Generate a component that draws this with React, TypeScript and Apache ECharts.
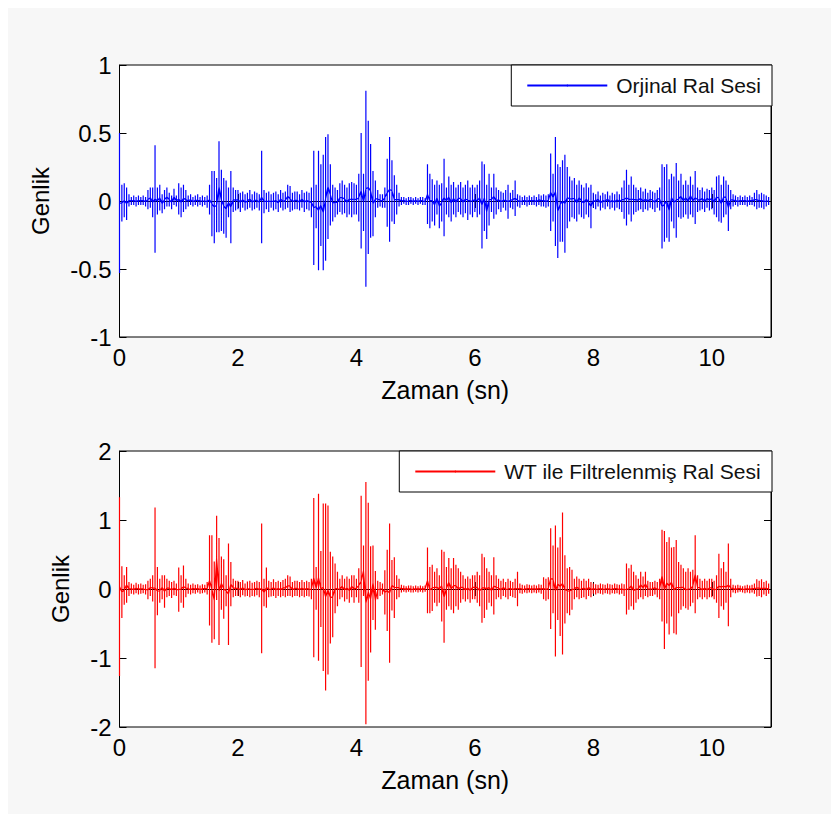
import React, { useEffect, useRef } from "react";
import * as echarts from "echarts";

// Sampling step of the spike list (seconds)
const DT = 0.04;

// Time axis ticks (s)
const timeTicks = [0, 2, 4, 6, 8, 10];

// Original signal: upper / lower extreme of each spike (one row = 1 s)
const origHi = [
  0.5, 0.12, 0.13, 0.1, 0.05, 0.03, 0.04, 0.03, 0.04, 0.03, 0.04, 0.03, 0.08, 0.1, 0.1, 0.41, 0.1, 0.12, 0.05, 0.08, 0.1, 0.06, 0.04, 0.09, 0.04,
  0.13, 0.1, 0.12, 0.08, 0.04, 0.05, 0.03, 0.04, 0.05, 0.03, 0.04, 0.03, 0.04, 0.12, 0.22, 0.22, 0.17, 0.44, 0.23, 0.17, 0.15, 0.1, 0.22, 0.1, 0.08,
  0.08, 0.06, 0.07, 0.05, 0.06, 0.08, 0.05, 0.07, 0.06, 0.05, 0.37, 0.08, 0.06, 0.07, 0.05, 0.06, 0.07, 0.05, 0.08, 0.06, 0.07, 0.12, 0.11, 0.06, 0.07,
  0.07, 0.05, 0.08, 0.06, 0.07, 0.06, 0.1, 0.37, 0.12, 0.37, 0.27, 0.34, 0.47, 0.49, 0.27, 0.12, 0.1, 0.08, 0.13, 0.15, 0.12, 0.1, 0.13, 0.14, 0.13,
  0.12, 0.2, 0.5, 0.2, 0.81, 0.59, 0.42, 0.22, 0.15, 0.08, 0.05, 0.05, 0.1, 0.31, 0.47, 0.3, 0.19, 0.12, 0.06, 0.03, 0.03, 0.02, 0.03, 0.03, 0.02,
  0.03, 0.02, 0.03, 0.03, 0.02, 0.27, 0.2, 0.16, 0.12, 0.15, 0.12, 0.13, 0.31, 0.1, 0.18, 0.12, 0.14, 0.1, 0.12, 0.14, 0.1, 0.12, 0.15, 0.1, 0.12,
  0.1, 0.12, 0.15, 0.29, 0.27, 0.12, 0.2, 0.1, 0.2, 0.1, 0.08, 0.07, 0.06, 0.08, 0.12, 0.06, 0.08, 0.15, 0.05, 0.04, 0.03, 0.04, 0.03, 0.04, 0.03,
  0.04, 0.03, 0.05, 0.04, 0.05, 0.04, 0.05, 0.35, 0.2, 0.47, 0.27, 0.25, 0.3, 0.34, 0.25, 0.18, 0.15, 0.17, 0.12, 0.15, 0.12, 0.1, 0.13, 0.1, 0.12,
  0.06, 0.05, 0.07, 0.04, 0.06, 0.05, 0.07, 0.04, 0.06, 0.05, 0.07, 0.05, 0.1, 0.15, 0.23, 0.12, 0.18, 0.12, 0.1, 0.08, 0.1, 0.07, 0.09, 0.06, 0.08,
  0.07, 0.06, 0.08, 0.1, 0.27, 0.25, 0.27, 0.16, 0.2, 0.18, 0.28, 0.15, 0.2, 0.12, 0.15, 0.12, 0.18, 0.12, 0.22, 0.1, 0.08, 0.1, 0.07, 0.09, 0.08,
  0.1, 0.08, 0.18, 0.19, 0.12, 0.18, 0.15, 0.12, 0.08, 0.05, 0.04, 0.03, 0.04, 0.03, 0.04, 0.03, 0.04, 0.03, 0.06, 0.08, 0.05, 0.06, 0.05, 0.04, 0.03,
];
const origLo = [
  -0.53, -0.15, -0.12, -0.14, -0.04, -0.03, -0.03, -0.04, -0.03, -0.03, -0.03, -0.04, -0.06, -0.05, -0.12, -0.38, -0.1, -0.07, -0.09, -0.06, -0.04, -0.04, -0.06, -0.03, -0.04,
  -0.1, -0.12, -0.08, -0.06, -0.04, -0.03, -0.04, -0.03, -0.04, -0.03, -0.04, -0.03, -0.05, -0.1, -0.26, -0.31, -0.23, -0.23, -0.22, -0.24, -0.27, -0.12, -0.31, -0.08, -0.07,
  -0.06, -0.08, -0.05, -0.07, -0.06, -0.05, -0.07, -0.06, -0.05, -0.07, -0.31, -0.09, -0.06, -0.08, -0.05, -0.07, -0.06, -0.08, -0.05, -0.07, -0.06, -0.05, -0.08, -0.07, -0.06,
  -0.06, -0.07, -0.05, -0.08, -0.06, -0.07, -0.12, -0.47, -0.2, -0.51, -0.33, -0.51, -0.44, -0.28, -0.18, -0.15, -0.12, -0.1, -0.08, -0.1, -0.09, -0.12, -0.1, -0.12, -0.1,
  -0.1, -0.15, -0.35, -0.22, -0.63, -0.39, -0.27, -0.26, -0.12, -0.05, -0.04, -0.05, -0.05, -0.19, -0.3, -0.15, -0.17, -0.1, -0.04, -0.03, -0.02, -0.03, -0.03, -0.02, -0.03,
  -0.02, -0.03, -0.02, -0.03, -0.03, -0.17, -0.2, -0.15, -0.18, -0.1, -0.2, -0.15, -0.26, -0.1, -0.12, -0.15, -0.1, -0.12, -0.08, -0.1, -0.12, -0.09, -0.14, -0.1, -0.12,
  -0.08, -0.12, -0.1, -0.35, -0.22, -0.28, -0.18, -0.08, -0.13, -0.1, -0.06, -0.08, -0.05, -0.07, -0.13, -0.05, -0.06, -0.11, -0.04, -0.05, -0.03, -0.03, -0.04, -0.03, -0.03,
  -0.03, -0.04, -0.03, -0.04, -0.04, -0.05, -0.04, -0.22, -0.15, -0.33, -0.42, -0.3, -0.3, -0.38, -0.2, -0.15, -0.12, -0.13, -0.15, -0.1, -0.12, -0.13, -0.1, -0.12, -0.2,
  -0.05, -0.06, -0.04, -0.07, -0.05, -0.06, -0.04, -0.06, -0.05, -0.07, -0.05, -0.06, -0.08, -0.13, -0.18, -0.1, -0.15, -0.1, -0.08, -0.07, -0.06, -0.08, -0.06, -0.07, -0.05,
  -0.06, -0.08, -0.05, -0.07, -0.35, -0.3, -0.27, -0.3, -0.15, -0.2, -0.27, -0.12, -0.13, -0.12, -0.1, -0.13, -0.1, -0.12, -0.17, -0.08, -0.07, -0.06, -0.08, -0.05, -0.07,
  -0.06, -0.1, -0.12, -0.15, -0.16, -0.12, -0.1, -0.22, -0.06, -0.04, -0.03, -0.04, -0.03, -0.03, -0.03, -0.04, -0.03, -0.03, -0.04, -0.06, -0.05, -0.05, -0.06, -0.04, -0.03,
];

// WT-filtered signal: upper / lower extreme of each spike (one row = 1 s)
const filtHi = [
  1.33, 0.33, 0.2, 0.32, 0.1, 0.08, 0.06, 0.09, 0.07, 0.08, 0.06, 0.07, 0.12, 0.15, 0.2, 1.18, 0.32, 0.15, 0.2, 0.2, 0.15, 0.12, 0.1, 0.12, 0.08,
  0.31, 0.2, 0.34, 0.15, 0.08, 0.06, 0.08, 0.06, 0.07, 0.05, 0.07, 0.06, 0.1, 0.78, 0.78, 0.4, 1.06, 0.74, 0.47, 0.43, 0.2, 0.66, 0.39, 0.15, 0.12,
  0.12, 0.1, 0.13, 0.08, 0.11, 0.12, 0.09, 0.1, 0.12, 0.1, 0.95, 0.15, 0.31, 0.12, 0.1, 0.14, 0.1, 0.12, 0.1, 0.13, 0.15, 0.2, 0.18, 0.1, 0.12,
  0.12, 0.1, 0.13, 0.1, 0.12, 0.1, 0.15, 1.32, 0.32, 1.38, 0.55, 1.24, 1.24, 1.21, 0.54, 0.47, 0.37, 0.25, 0.15, 0.2, 0.15, 0.18, 0.15, 0.2, 0.2,
  0.15, 0.3, 1.35, 0.63, 1.55, 1.25, 0.62, 0.63, 0.26, 0.12, 0.1, 0.08, 0.27, 0.57, 0.95, 0.42, 0.46, 0.2, 0.15, 0.06, 0.05, 0.04, 0.05, 0.05, 0.04,
  0.05, 0.04, 0.05, 0.04, 0.05, 0.6, 0.32, 0.35, 0.25, 0.3, 0.2, 0.57, 0.54, 0.32, 0.45, 0.3, 0.45, 0.35, 0.3, 0.25, 0.2, 0.15, 0.18, 0.15, 0.2,
  0.2, 0.25, 0.2, 0.51, 0.46, 0.3, 0.25, 0.2, 0.46, 0.2, 0.15, 0.12, 0.15, 0.1, 0.15, 0.12, 0.1, 0.15, 0.25, 0.08, 0.06, 0.05, 0.07, 0.06, 0.05,
  0.06, 0.05, 0.07, 0.06, 0.17, 0.15, 0.17, 0.88, 0.63, 0.92, 0.6, 0.75, 1.11, 0.49, 0.3, 0.32, 0.28, 0.15, 0.18, 0.15, 0.12, 0.15, 0.12, 0.15, 0.1,
  0.08, 0.07, 0.06, 0.08, 0.07, 0.06, 0.08, 0.07, 0.06, 0.08, 0.07, 0.06, 0.08, 0.07, 0.37, 0.3, 0.35, 0.25, 0.2, 0.15, 0.25, 0.18, 0.25, 0.12, 0.1,
  0.1, 0.12, 0.1, 0.15, 0.86, 0.84, 0.68, 0.75, 0.6, 0.61, 0.71, 0.39, 0.35, 0.3, 0.25, 0.3, 0.25, 0.28, 0.78, 0.2, 0.15, 0.12, 0.15, 0.12, 0.15,
  0.15, 0.12, 0.2, 0.51, 0.3, 0.39, 0.25, 0.66, 0.15, 0.06, 0.05, 0.06, 0.05, 0.04, 0.05, 0.06, 0.05, 0.06, 0.08, 0.14, 0.12, 0.14, 0.1, 0.12, 0.08,
];
const filtLo = [
  -1.26, -0.42, -0.23, -0.2, -0.1, -0.07, -0.08, -0.06, -0.08, -0.07, -0.06, -0.08, -0.15, -0.1, -0.18, -1.15, -0.38, -0.2, -0.15, -0.27, -0.12, -0.1, -0.13, -0.09, -0.1,
  -0.33, -0.2, -0.27, -0.12, -0.07, -0.08, -0.06, -0.07, -0.05, -0.07, -0.06, -0.05, -0.08, -0.53, -0.78, -0.73, -0.16, -0.81, -0.3, -0.43, -0.25, -0.81, -0.25, -0.12, -0.1,
  -0.1, -0.12, -0.09, -0.11, -0.1, -0.12, -0.1, -0.11, -0.09, -0.12, -0.93, -0.25, -0.27, -0.12, -0.11, -0.1, -0.13, -0.1, -0.12, -0.1, -0.12, -0.1, -0.1, -0.12, -0.1,
  -0.1, -0.12, -0.1, -0.12, -0.1, -0.11, -0.15, -0.99, -0.3, -1.04, -0.55, -1.19, -1.47, -1.24, -0.79, -0.7, -0.35, -0.25, -0.15, -0.12, -0.18, -0.15, -0.2, -0.12, -0.2,
  -0.12, -0.2, -1.13, -0.1, -1.96, -1.33, -0.92, -0.45, -0.59, -0.15, -0.1, -0.08, -0.37, -0.61, -1.07, -0.31, -0.42, -0.15, -0.12, -0.05, -0.04, -0.05, -0.04, -0.05, -0.05,
  -0.04, -0.05, -0.04, -0.05, -0.04, -0.35, -0.35, -0.32, -0.2, -0.25, -0.2, -0.47, -0.78, -0.3, -0.25, -0.3, -0.35, -0.25, -0.3, -0.2, -0.15, -0.18, -0.15, -0.2, -0.15,
  -0.15, -0.2, -0.25, -0.49, -0.42, -0.3, -0.2, -0.25, -0.37, -0.15, -0.12, -0.15, -0.1, -0.12, -0.15, -0.1, -0.12, -0.13, -0.25, -0.06, -0.07, -0.05, -0.06, -0.05, -0.06,
  -0.05, -0.06, -0.05, -0.07, -0.15, -0.17, -0.15, -0.58, -0.35, -0.98, -0.45, -0.68, -0.95, -0.5, -0.35, -0.38, -0.3, -0.15, -0.12, -0.15, -0.13, -0.12, -0.15, -0.1, -0.12,
  -0.07, -0.08, -0.06, -0.07, -0.08, -0.06, -0.07, -0.08, -0.06, -0.07, -0.06, -0.08, -0.07, -0.1, -0.37, -0.3, -0.25, -0.3, -0.2, -0.15, -0.12, -0.15, -0.1, -0.12, -0.1,
  -0.1, -0.08, -0.12, -0.15, -0.47, -0.87, -0.5, -0.66, -0.4, -0.64, -0.66, -0.35, -0.3, -0.25, -0.28, -0.3, -0.25, -0.2, -0.35, -0.15, -0.12, -0.15, -0.12, -0.15, -0.12,
  -0.12, -0.15, -0.2, -0.42, -0.25, -0.3, -0.2, -0.54, -0.12, -0.05, -0.06, -0.05, -0.04, -0.05, -0.06, -0.05, -0.06, -0.05, -0.07, -0.11, -0.1, -0.12, -0.08, -0.1, -0.07,
];

const ORIG_NAME = "Orjinal Ral Sesi";
const FILT_NAME = "WT ile Filtrelenmiş Ral Sesi";
const X_NAME = "Zaman (sn)";
const Y_NAME = "Genlik";
const BLUE = "#0000ff";
const RED = "#ff0000";

// Each spike is drawn as a vertical stroke from its upper to its lower extreme.
function spikes(hi: number[], lo: number[]): number[][] {
  const pts: number[][] = [];
  for (let i = 0; i < hi.length; i++) {
    const t = Math.round(i * DT * 1000) / 1000;
    const m = (hi[i] + lo[i]) / 2;
    pts.push([t, m], [t, hi[i]], [t, lo[i]], [t, m]);
  }
  return pts;
}

const FONT = "'Liberation Sans', Arial, Helvetica, sans-serif";
const BLACK = "#000";

function xAxes(gridIndex: number) {
  const base = {
    gridIndex,
    type: "value",
    min: 0,
    max: 11,
    interval: 2,
    splitLine: { show: false },
    axisLine: { show: true, lineStyle: { color: BLACK, width: 1 } },
    axisTick: { show: true, inside: true, length: 7, lineStyle: { color: BLACK } },
  };
  return [
    {
      ...base,
      position: "bottom",
      name: X_NAME,
      nameLocation: "middle",
      nameGap: 40,
      nameTextStyle: { fontSize: 25, color: BLACK, fontFamily: FONT },
      axisLabel: {
        color: BLACK,
        fontSize: 24,
        fontFamily: FONT,
        margin: 8,
        formatter: (v: number) => (timeTicks.includes(v) ? String(v) : ""),
      },
    },
    { ...base, position: "top", axisLabel: { show: false } },
  ];
}

function yAxes(gridIndex: number, lim: number, step: number, gap: number) {
  const base = {
    gridIndex,
    type: "value",
    min: -lim,
    max: lim,
    interval: step,
    splitLine: { show: false },
    axisLine: { show: true, onZero: false, lineStyle: { color: BLACK, width: 1 } },
    axisTick: { show: true, inside: true, length: 7, lineStyle: { color: BLACK } },
  };
  return [
    {
      ...base,
      position: "left",
      name: Y_NAME,
      nameLocation: "middle",
      nameGap: gap,
      nameTextStyle: { fontSize: 24, color: BLACK, fontFamily: FONT },
      axisLabel: { color: BLACK, fontSize: 24, fontFamily: FONT, margin: 8 },
    },
    { ...base, position: "right", axisLabel: { show: false } },
  ];
}

function legendBox(name: string, top: number) {
  return {
    data: [name],
    right: 67,
    top,
    orient: "horizontal",
    backgroundColor: "#fff",
    borderColor: BLACK,
    borderWidth: 1,
    borderRadius: 0,
    padding: [10, 11, 10, 15],
    itemWidth: 80,
    itemHeight: 2,
    itemGap: 0,
    selectedMode: false,
    textStyle: { fontSize: 21, color: "#111", fontFamily: FONT, padding: [0, 0, 0, 4] },
  };
}

export default function App() {
  const ref = useRef<HTMLDivElement>(null);
  useEffect(() => {
    if (!ref.current) return;
    const chart = echarts.init(ref.current, null, { renderer: "svg" });
    const gridStyle = {
      left: 111.5,
      right: 68,
      show: true,
      backgroundColor: "#fff",
      borderColor: BLACK,
      borderWidth: 1,
    };
    chart.setOption({
      animation: false,
      backgroundColor: "#f7f7f7",
      grid: [
        { ...gridStyle, top: 60, height: 272 },
        { ...gridStyle, top: 446, height: 276 },
      ],
      xAxis: [...xAxes(0), ...xAxes(1)],
      yAxis: [...yAxes(0, 1, 0.5, 67), ...yAxes(1, 2, 1, 47)],
      legend: [legendBox(ORIG_NAME, 60), legendBox(FILT_NAME, 446)],
      series: [
        {
          name: ORIG_NAME,
          type: "line",
          xAxisIndex: 0,
          yAxisIndex: 0,
          data: spikes(origHi, origLo),
          symbol: "none",
          showSymbol: false,
          color: BLUE,
          lineStyle: { color: BLUE, width: 1.2 },
          itemStyle: { color: BLUE },
          emphasis: { disabled: true },
          z: 3,
        },
        {
          name: FILT_NAME,
          type: "line",
          xAxisIndex: 2,
          yAxisIndex: 2,
          data: spikes(filtHi, filtLo),
          symbol: "none",
          showSymbol: false,
          color: RED,
          lineStyle: { color: RED, width: 1.2 },
          itemStyle: { color: RED },
          emphasis: { disabled: true },
          z: 3,
        },
      ],
    });
    return () => chart.dispose();
  }, []);
  return <div ref={ref} style={{ width: 831, height: 809, marginTop: -3 }} />;
}
